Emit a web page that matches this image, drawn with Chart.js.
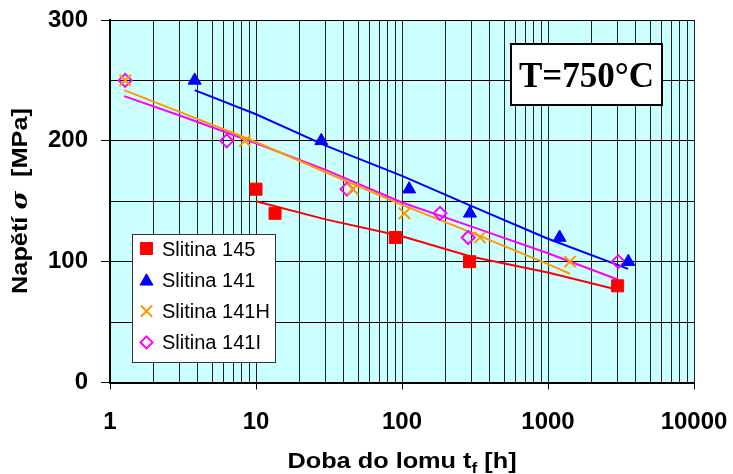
<!DOCTYPE html>
<html>
<head>
<meta charset="utf-8">
<script src="https://cdn.jsdelivr.net/npm/chart.js@4/dist/chart.umd.min.js"></script>
<style>
  html, body { margin: 0; padding: 0; background: #fff; }
  #wrap { width: 733px; height: 474px; }
</style>
</head>
<body>
<div id="wrap"><canvas id="creepChart" width="733" height="474"></canvas></div>
<script>
// Measured points (doba do lomu [h], napětí [MPa])
const t145 = [10, 13.5, 90, 290, 3000];
const s145 = [160, 140, 120, 100, 80];
const t141 = [3.8, 28, 112, 292, 1200, 3550];
const s141 = [250, 200, 160, 140, 120, 100];
const t141H = [1.27, 8.4, 46, 104, 342, 1415];
const s141H = [250, 200, 160, 140, 120, 100];
const t141I = [1.27, 6.3, 42, 182, 284, 3030];
const s141I = [250, 200, 160, 140, 120, 100];

// Trend lines
const fitT145 = [10, 30, 100, 300, 1000, 2950];
const fitS145 = [150, 135, 121, 104, 91, 77];
const fitT141 = [3.8, 10, 30, 100, 300, 1000, 3540];
const fitS141 = [242, 222, 196, 171, 146, 119, 94];
const fitT141H = [1.25, 3, 10, 30, 100, 300, 1000, 1415];
const fitS141H = [242, 224, 199, 174, 147, 124, 98, 90];
const fitT141I = [1.25, 3, 10, 30, 100, 300, 1000, 3030];
const fitS141I = [237, 221, 198, 176, 149, 129, 107, 85];

const seriesNames = ['Slitina 145', 'Slitina 141', 'Slitina 141H', 'Slitina 141I'];
const xDecades = [1, 10, 100, 1000, 10000];
const yLabelled = [0, 100, 200, 300];

const RED = '#FF0000', BLUE = '#0000FF', ORANGE = '#FF9900', MAGENTA = '#FF00FF';

const pts = (xs, ys) => xs.map((x, i) => ({ x: x, y: ys[i] }));
const isDecade = v => Math.abs(Math.log10(v) - Math.round(Math.log10(v))) < 1e-9;

const lineSet = (xs, ys, color) => ({
    data: pts(xs, ys),
    showLine: true,
    borderColor: color,
    borderWidth: 2,
    pointRadius: 0,
    fill: false,
    tension: 0,
    isFit: true
});

// Background of the plot area
const plotBg = {
    id: 'plotBg',
    beforeDraw(chart) {
        const a = chart.chartArea, ctx = chart.ctx;
        ctx.save();
        ctx.fillStyle = '#CCFFFF';
        ctx.fillRect(a.left, a.top, a.right - a.left, a.bottom - a.top);
        ctx.restore();
    }
};

// Axis titles, legend and temperature box
const decorations = {
    id: 'decorations',
    afterDraw(chart) {
        const ctx = chart.ctx;
        ctx.save();
        ctx.fillStyle = '#000';
        ctx.textBaseline = 'alphabetic';

        // x title with subscript
        const stretch = 1.15;
        const parts = [
            { t: 'Doba do lomu t', f: 'bold 22px Arial, "Liberation Sans"', dy: 0 },
            { t: 'f', f: 'bold 15px Arial, "Liberation Sans"', dy: 5 },
            { t: ' [h]', f: 'bold 22px Arial, "Liberation Sans"', dy: 0 }
        ];
        let w = 0;
        parts.forEach(p => { ctx.font = p.f; p.w = ctx.measureText(p.t).width; w += p.w; });
        ctx.save();
        ctx.translate(402, 468);
        ctx.scale(stretch, 1);
        let x = -w / 2;
        ctx.textAlign = 'left';
        parts.forEach(p => { ctx.font = p.f; ctx.fillText(p.t, x, p.dy); x += p.w; });
        ctx.restore();

        // y title, sigma in italic
        const yparts = [
            { t: 'Napětí ', f: 'bold 22px Arial, "Liberation Sans"' },
            { t: 'σ', f: 'italic bold 22px "DejaVu Serif", serif' },
            { t: '  [MPa]', f: 'bold 22px Arial, "Liberation Sans"' }
        ];
        w = 0;
        yparts.forEach(p => { ctx.font = p.f; p.w = ctx.measureText(p.t).width; w += p.w; });
        ctx.save();
        ctx.translate(27, 201);
        ctx.rotate(-Math.PI / 2);
        ctx.scale(stretch, 1);
        x = -w / 2;
        yparts.forEach(p => { ctx.font = p.f; ctx.fillText(p.t, x, 0); x += p.w; });
        ctx.restore();

        // legend
        ctx.fillStyle = '#fff';
        ctx.fillRect(132, 234, 143, 129);
        ctx.strokeStyle = '#333';
        ctx.lineWidth = 1;
        ctx.strokeRect(132.5, 234.5, 143, 128);
        const marks = chart.data.datasets.filter(d => !d.isFit);
        marks.forEach((d, i) => {
            const cy = 248.5 + i * 31.3;
            ctx.save();
            ctx.lineWidth = d.borderWidth;
            ctx.strokeStyle = d.borderColor;
            ctx.fillStyle = d.backgroundColor;
            const r = d.pointStyle === 'triangle' ? 7.5 : (d.pointStyle === 'rectRot' ? 6 : (d.pointStyle === 'crossRot' ? 8 : 8.5));
            Chart.helpers.drawPoint(ctx, { pointStyle: d.pointStyle, rotation: 0, borderWidth: d.borderWidth, radius: r }, 146.5, cy + (d.pointStyle === 'triangle' ? 1.5 : 0));
            ctx.restore();
            ctx.fillStyle = '#000';
            ctx.font = '20px Arial, "Liberation Sans"';
            ctx.textAlign = 'left';
            ctx.fillText(seriesNames[i], 162, cy + 7);
        });

        // temperature box
        ctx.fillStyle = '#fff';
        ctx.fillRect(511, 44, 151, 61);
        ctx.strokeStyle = '#000';
        ctx.lineWidth = 2;
        ctx.strokeRect(511, 44, 151, 61);
        ctx.fillStyle = '#000';
        ctx.font = 'bold 35px "Times New Roman", "Liberation Serif", serif';
        ctx.textAlign = 'center';
        ctx.fillText('T=750°C', 586.5, 87);
        ctx.restore();
    }
};

const tickFont = { family: 'Arial, "Liberation Sans"', size: 24, weight: 'bold' };

new Chart(document.getElementById('creepChart').getContext('2d'), {
    type: 'scatter',
    data: {
        datasets: [
            { label: seriesNames[0], data: pts(t145, s145), pointStyle: 'rect', pointRadius: 8.5,
              backgroundColor: RED, borderColor: RED, borderWidth: 1 },
            { label: seriesNames[1], data: pts(t141, s141), pointStyle: 'triangle', pointRadius: 7.5,
              backgroundColor: BLUE, borderColor: BLUE, borderWidth: 1 },
            { label: seriesNames[2], data: pts(t141H, s141H), pointStyle: 'crossRot', pointRadius: 8,
              backgroundColor: ORANGE, borderColor: ORANGE, borderWidth: 2 },
            { label: seriesNames[3], data: pts(t141I, s141I), pointStyle: 'rectRot', pointRadius: 6.5,
              backgroundColor: 'rgba(0,0,0,0)', borderColor: MAGENTA, borderWidth: 2 },
            lineSet(fitT145, fitS145, RED),
            lineSet(fitT141, fitS141, BLUE),
            lineSet(fitT141H, fitS141H, ORANGE),
            lineSet(fitT141I, fitS141I, MAGENTA)
        ]
    },
    options: {
        responsive: false,
        animation: false,
        devicePixelRatio: 1,
        layout: { padding: { left: 0, top: 20, right: 39, bottom: 0 } },
        scales: {
            x: {
                type: 'logarithmic',
                min: 1,
                max: 10000,
                afterFit: s => { s.height = 91.5; s.paddingLeft = 0; s.paddingRight = 0; },
                afterBuildTicks: s => {
                    const ticks = [];
                    xDecades.forEach(d => {
                        for (let m = 1; m <= 9; m++) {
                            if (d * m <= 10000) ticks.push({ value: d * m });
                        }
                    });
                    s.ticks = ticks;
                },
                border: { color: '#000', width: 2 },
                grid: {
                    color: '#222',
                    lineWidth: 1,
                    tickLength: 7,
                    tickColor: c => (c.tick && isDecade(c.tick.value)) ? '#000' : 'rgba(0,0,0,0)'
                },
                ticks: {
                    autoSkip: false,
                    maxRotation: 0,
                    padding: 18,
                    color: '#000',
                    font: tickFont,
                    callback: v => isDecade(v) ? String(v) : ''
                }
            },
            y: {
                min: 0,
                max: 300,
                afterFit: s => { s.width = 110; s.paddingTop = 0; s.paddingBottom = 0; },
                border: { color: '#000', width: 2 },
                grid: {
                    color: '#000',
                    lineWidth: 1,
                    tickLength: 9,
                    tickColor: c => (c.tick && yLabelled.includes(c.tick.value)) ? '#000' : 'rgba(0,0,0,0)'
                },
                ticks: {
                    stepSize: 50,
                    padding: 13,
                    color: '#000',
                    font: tickFont,
                    callback: v => yLabelled.includes(v) ? String(v) : ''
                }
            }
        },
        plugins: {
            legend: { display: false },
            tooltip: { enabled: false }
        }
    },
    plugins: [plotBg, decorations]
});
</script>
</body>
</html>
